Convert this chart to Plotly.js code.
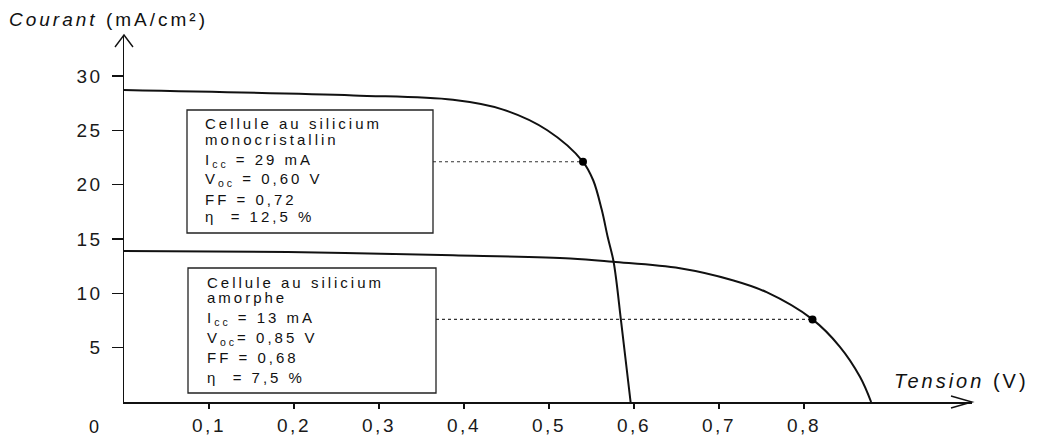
<!DOCTYPE html>
<html><head><meta charset="utf-8">
<script src="https://cdn.plot.ly/plotly-3.0.1.min.js"></script>
<style>
html,body{margin:0;padding:0;background:#fff;}
#chart{width:1039px;height:436px;}
.xtick text,.ytick text{letter-spacing:2.5px;}
.annotation-text{letter-spacing:3px;}
</style></head><body><div id="chart"></div>
<script>
// ---- data ----
const monoV = [0, 0.27, 0.387, 0.446, 0.498, 0.54, 0.552, 0.562, 0.569, 0.576, 0.585, 0.596];
const monoI = [28.7, 28.2, 27.8, 26.9, 25.0, 22.1, 20.4, 17.7, 15.2, 12.9, 7.3, 0];
const amoV = [0, 0.193, 0.387, 0.525, 0.575, 0.654, 0.716, 0.756, 0.81, 0.842, 0.866, 0.879];
const amoI = [13.9, 13.8, 13.5, 13.2, 12.9, 12.3, 11.2, 10.1, 7.6, 5.1, 2.3, 0];
const mppV = [0.54, 0.81];
const mppI = [22.1, 7.6];
const xTickVals = [0.1, 0.2, 0.3, 0.4, 0.5, 0.6, 0.7, 0.8];
const xTickText = ['0,1', '0,2', '0,3', '0,4', '0,5', '0,6', '0,7', '0,8'];
const yTickVals = [5, 10, 15, 20, 25, 30];
const yTickText = ['5', '10', '15', '20', '25', '30'];
const box1Lines = ['Cellule au silicium', 'monocristallin', 'I<sub>cc</sub> = 29 mA', 'V<sub>oc</sub> = 0,60 V', 'FF = 0,72', '\u03B7\u00A0\u00A0= 12,5 %'];
const box2Lines = ['Cellule au silicium', 'amorphe', 'I<sub>cc</sub> = 13 mA', 'V<sub>oc</sub>= 0,85 V', 'FF = 0,68', '\u03B7\u00A0\u00A0= 7,5 %'];
const xTitle = '<i>Tension</i> (V)';
const yTitle = '<i>Courant</i> (mA/cm\u00B2)';

// ---- geometry ----
const L = 124, R = 972, T = 35, B = 402;
const pxPerV = 850, pxPerI = 10.87;
const xMax = (R - L) / pxPerV, yMax = (B - T) / pxPerI;
const dx = p => (p - L) / pxPerV;
const dy = p => (B - p) / pxPerI;
const pX = p => (p - L) / (R - L);
const pY = p => (B - p) / (B - T);

const FONT = 'Liberation Sans, Arial, sans-serif';
const INK = '#111';

const traces = [
  {x: monoV, y: monoI, mode: 'lines', line: {color: INK, width: 2, shape: 'spline', smoothing: 1}, hoverinfo: 'skip'},
  {x: amoV, y: amoI, mode: 'lines', line: {color: INK, width: 2, shape: 'spline', smoothing: 1}, hoverinfo: 'skip'},
  {x: [dx(433), mppV[0]], y: [mppI[0], mppI[0]], mode: 'lines', line: {color: '#333', width: 1.2, dash: 'dot'}, hoverinfo: 'skip'},
  {x: [dx(436), mppV[1]], y: [mppI[1], mppI[1]], mode: 'lines', line: {color: '#333', width: 1.2, dash: 'dot'}, hoverinfo: 'skip'},
  {x: mppV, y: mppI, mode: 'markers', marker: {color: '#000', size: 8}, hoverinfo: 'skip'}
];

const annotations = [];
function boxText(lines, xLeft, ys) {
  lines.forEach((t, i) => annotations.push({
    xref: 'x', yref: 'y', x: dx(xLeft), y: dy(ys[i]), xanchor: 'left', yanchor: 'middle',
    text: t, showarrow: false, font: {family: FONT, size: 15, color: INK}
  }));
}
boxText(box1Lines, 203, [123, 139, 160, 179, 199, 216]);
boxText(box2Lines, 205, [282, 297, 318, 338, 357, 377]);
annotations.push({xref: 'paper', yref: 'paper', x: pX(7), y: pY(20), xanchor: 'left', yanchor: 'middle',
  text: yTitle, showarrow: false, font: {family: FONT, size: 19, color: INK}});
annotations.push({xref: 'paper', yref: 'paper', x: pX(892), y: pY(381), xanchor: 'left', yanchor: 'middle',
  text: xTitle, showarrow: false, font: {family: FONT, size: 20, color: INK}});
annotations.push({xref: 'paper', yref: 'paper', x: pX(95), y: pY(427), xanchor: 'center', yanchor: 'middle',
  text: '0', showarrow: false, font: {family: FONT, size: 18, color: INK}});

const shapes = [
  {type: 'rect', xref: 'x', yref: 'y', x0: dx(187), x1: dx(433), y0: dy(233), y1: dy(110), line: {color: '#222', width: 1.3}},
  {type: 'rect', xref: 'x', yref: 'y', x0: dx(188), x1: dx(436), y0: dy(393), y1: dy(268), line: {color: '#222', width: 1.3}},
  {type: 'path', xref: 'paper', yref: 'paper',
   path: `M ${pX(951)},${pY(396)} L ${pX(972)},${pY(402)} L ${pX(951)},${pY(408)}`, line: {color: INK, width: 1.4}},
  {type: 'path', xref: 'paper', yref: 'paper',
   path: `M ${pX(115)},${pY(47)} L ${pX(124)},${pY(35)} L ${pX(133)},${pY(47)}`, line: {color: INK, width: 1.4}}
];

const axisCommon = {showgrid: false, zeroline: false, showline: true, linecolor: INK, linewidth: 1.5,
  ticks: 'outside', tickcolor: INK, tickwidth: 1.3, fixedrange: true};

const layout = {
  width: 1039, height: 436,
  margin: {l: L, r: 1039 - R, t: T, b: 436 - B, pad: 0},
  paper_bgcolor: '#fff', plot_bgcolor: '#fff', showlegend: false,
  xaxis: Object.assign({}, axisCommon, {range: [0, xMax], tickmode: 'array', tickvals: xTickVals, ticktext: xTickText,
    ticklen: 5, ticklabelstandoff: 1, tickfont: {family: FONT, size: 19, color: '#1a1a1a'}}),
  yaxis: Object.assign({}, axisCommon, {range: [0, yMax], tickmode: 'array', tickvals: yTickVals, ticktext: yTickText,
    ticklen: 11, ticklabelstandoff: 5, tickfont: {family: FONT, size: 19, color: '#1a1a1a'}}),
  annotations: annotations, shapes: shapes
};

Plotly.newPlot('chart', traces, layout, {displayModeBar: false, staticPlot: true});
</script></body></html>
